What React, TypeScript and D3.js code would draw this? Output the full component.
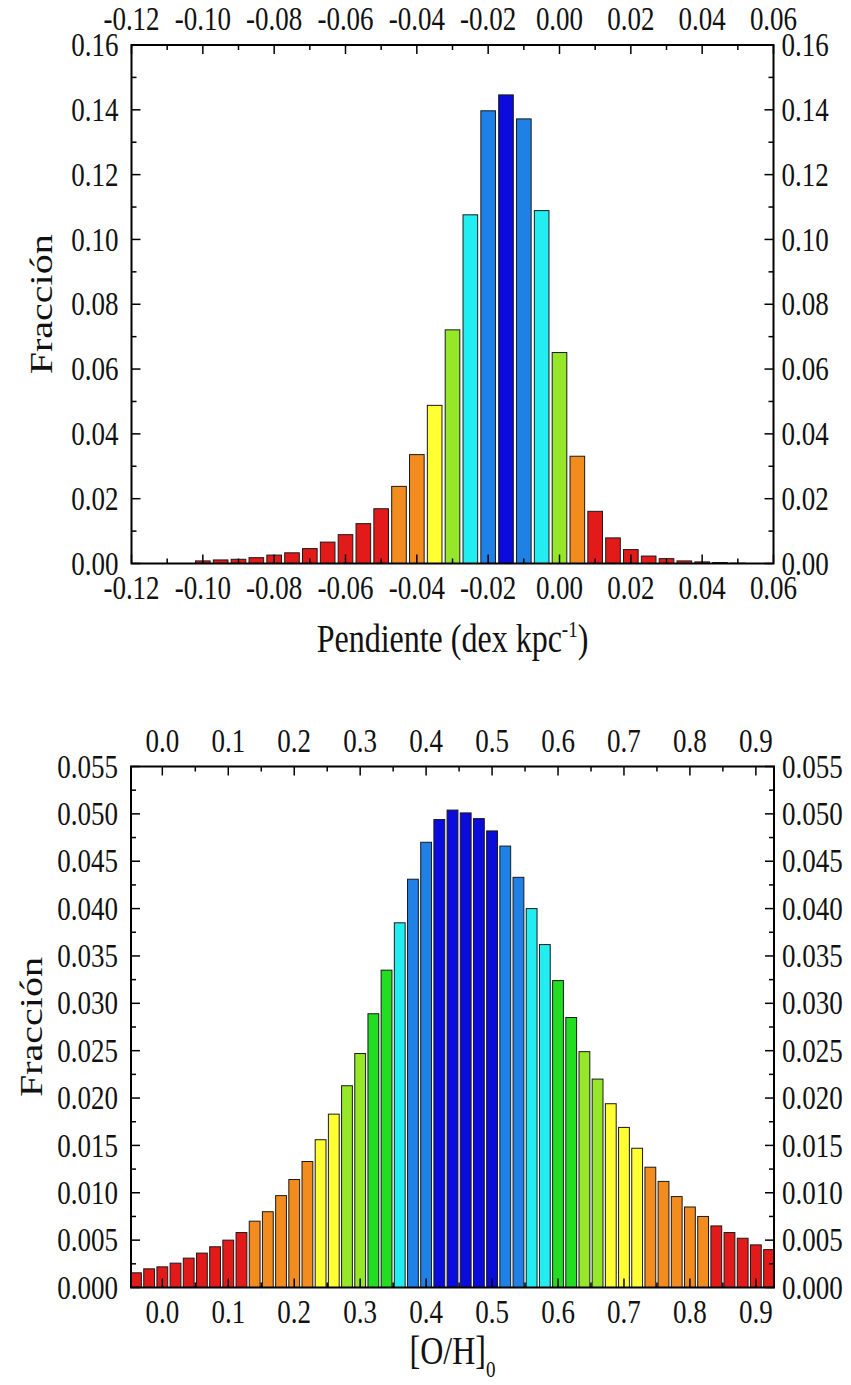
import React from "react";
import * as d3 from "d3";

// ---------- Data: top histogram (slope) ----------
const slopeBins = [
  -0.1, -0.095, -0.09, -0.085, -0.08, -0.075, -0.07, -0.065, -0.06, -0.055,
  -0.05, -0.045, -0.04, -0.035, -0.03, -0.025, -0.02, -0.015, -0.01, -0.005,
  0.0, 0.005, 0.01, 0.015, 0.02, 0.025, 0.03, 0.035, 0.04, 0.045, 0.05,
];
const slopeFrac = [
  0.0008, 0.0011, 0.0013, 0.0018, 0.0026, 0.0033, 0.0046, 0.0066, 0.0089, 0.0123,
  0.0169, 0.0238, 0.0336, 0.0488, 0.0721, 0.1076, 0.1397, 0.1446, 0.1372, 0.1089,
  0.0651, 0.0331, 0.0161, 0.0079, 0.0043, 0.0023, 0.0015, 0.0008, 0.0005, 0.0003, 0.0001,
];
const slopeXTicks = [-0.12, -0.1, -0.08, -0.06, -0.04, -0.02, 0.0, 0.02, 0.04, 0.06];
const slopeYTicks = [0, 0.02, 0.04, 0.06, 0.08, 0.1, 0.12, 0.14, 0.16];

// ---------- Data: bottom histogram ([O/H]0) ----------
const ohBins = [
  -0.04, -0.02, 0.0, 0.02, 0.04, 0.06, 0.08, 0.1, 0.12, 0.14,
  0.16, 0.18, 0.2, 0.22, 0.24, 0.26, 0.28, 0.3, 0.32, 0.34,
  0.36, 0.38, 0.4, 0.42, 0.44, 0.46, 0.48, 0.5, 0.52, 0.54,
  0.56, 0.58, 0.6, 0.62, 0.64, 0.66, 0.68, 0.7, 0.72, 0.74,
  0.76, 0.78, 0.8, 0.82, 0.84, 0.86, 0.88, 0.9, 0.92,
];
const ohFrac = [
  0.00155, 0.00197, 0.00218, 0.00257, 0.0031, 0.00363, 0.0043, 0.005, 0.0058, 0.007,
  0.008, 0.0097, 0.0114, 0.0133, 0.0156, 0.0183, 0.0213, 0.0247, 0.0289, 0.0335,
  0.0385, 0.0431, 0.047, 0.0494, 0.0504, 0.0501, 0.0495, 0.0482, 0.0466, 0.0433,
  0.04, 0.0362, 0.0324, 0.0285, 0.0249, 0.022, 0.0194, 0.0169, 0.0147, 0.0127,
  0.0112, 0.0096, 0.0085, 0.0075, 0.0065, 0.0058, 0.0052, 0.0045, 0.004,
];
const ohXTicks = [0.0, 0.1, 0.2, 0.3, 0.4, 0.5, 0.6, 0.7, 0.8, 0.9];
const ohYTicks = [0, 0.005, 0.01, 0.015, 0.02, 0.025, 0.03, 0.035, 0.04, 0.045, 0.05, 0.055];

const palette = ["#e31a1a", "#f38c1f", "#ffff33", "#96e62a", "#22dd22", "#22eef2", "#1f80e6", "#0b0bdc"];

const FONT = '"Liberation Serif", "DejaVu Serif", serif';
const SY = 1.25; // vertical stretch of the scanned figure's text

type PanelProps = {
  bins: number[];
  values: number[];
  xDomain: [number, number];
  yMax: number;
  binWidth: number;
  xTicks: number[];
  xMinor: number;
  yTicks: number[];
  yMinor: number;
  xFmt: (v: number) => string;
  yFmt: (v: number) => string;
  top: number;
  bottom: number;
  left: number;
  right: number;
  yTitleX: number;
  xTitle: React.ReactNode;
  xTitleY: number;
};

function Label(props: { x: number; y: number; anchor: string; size: number; children: React.ReactNode }) {
  return (
    <text
      transform={`translate(${props.x},${props.y}) scale(1,${SY})`}
      textAnchor={props.anchor as any}
      fill="#111"
      style={{ fontFamily: FONT, fontSize: `${props.size}px` }}
    >
      {props.children}
    </text>
  );
}

function Panel(p: PanelProps) {
  const x = d3.scaleLinear().domain(p.xDomain).range([p.left, p.right]);
  const y = d3.scaleLinear().domain([0, p.yMax]).range([p.bottom, p.top]);
  const color = d3.scaleQuantize<string>().domain([0, p.yMax]).range(palette);
  const bw = p.binWidth * 0.82;
  const minorX = d3.range(
    Math.ceil((p.xDomain[0] - 1e-9) / p.xMinor),
    Math.floor((p.xDomain[1] + 1e-9) / p.xMinor) + 1
  ).map((k) => k * p.xMinor);
  const minorY = d3.range(0, Math.round(p.yMax / p.yMinor) + 1).map((k) => k * p.yMinor);
  const isMajor = (v: number, arr: number[]) => arr.some((t) => Math.abs(t - v) < 1e-9);
  const MAJ = 9;
  const MIN = 5;
  const FS = 27;
  const half = 0.33 * FS * SY; // half cap-height after stretch
  return (
    <g>
      {p.bins.map((b, i) => (
        <rect
          key={i}
          x={x(b - bw / 2)}
          y={y(p.values[i])}
          width={x(b + bw / 2) - x(b - bw / 2)}
          height={y(0) - y(p.values[i])}
          fill={color(p.values[i])}
          stroke="#1a1a1a"
          strokeWidth={1}
        />
      ))}
      {minorX.map((v, i) => {
        const len = isMajor(v, p.xTicks) ? MAJ : MIN;
        return (
          <g key={"xt" + i} stroke="#000" strokeWidth={1.5}>
            <line x1={x(v)} x2={x(v)} y1={p.bottom} y2={p.bottom - len} />
            <line x1={x(v)} x2={x(v)} y1={p.top} y2={p.top + len} />
          </g>
        );
      })}
      {minorY.map((v, i) => {
        const len = isMajor(v, p.yTicks) ? MAJ : MIN;
        return (
          <g key={"yt" + i} stroke="#000" strokeWidth={1.5}>
            <line x1={p.left} x2={p.left + len} y1={y(v)} y2={y(v)} />
            <line x1={p.right} x2={p.right - len} y1={y(v)} y2={y(v)} />
          </g>
        );
      })}
      <rect
        x={p.left}
        y={p.top}
        width={p.right - p.left}
        height={p.bottom - p.top}
        fill="none"
        stroke="#000"
        strokeWidth={2}
      />
      {p.xTicks.map((v, i) => (
        <g key={"xl" + i}>
          <Label x={x(v)} y={p.bottom + 13 + 2 * half} anchor="middle" size={FS}>{p.xFmt(v)}</Label>
          <Label x={x(v)} y={p.top - 15} anchor="middle" size={FS}>{p.xFmt(v)}</Label>
        </g>
      ))}
      {p.yTicks.map((v, i) => (
        <g key={"yl" + i}>
          <Label x={p.left - 13} y={y(v) + half} anchor="end" size={FS}>{p.yFmt(v)}</Label>
          <Label x={p.right + 8} y={y(v) + half} anchor="start" size={FS}>{p.yFmt(v)}</Label>
        </g>
      ))}
      <text
        style={{ fontFamily: FONT, fontSize: "32px" }}
        fill="#111"
        textAnchor="middle"
        transform={`translate(${p.yTitleX},${(p.top + p.bottom) / 2}) rotate(-90) scale(${SY},1)`}
      >
        Fracción
      </text>
      <Label x={(p.left + p.right) / 2} y={p.xTitleY} anchor="middle" size={32}>
        {p.xTitle}
      </Label>
    </g>
  );
}

const hy = (s: string) => s.replace("\u2212", "-");

export default function App() {
  const f2 = (v: number) => hy(d3.format(".2f")(v));
  const f1 = (v: number) => hy(d3.format(".1f")(v));
  const f3 = (v: number) => hy(d3.format(".3f")(v));
  return (
    <svg
      width={851}
      height={1385}
      style={{ position: "absolute", left: 0, top: 0, background: "#fff" }}
    >
      <rect x={0} y={0} width={851} height={1385} fill="#fff" />
      <Panel
        bins={slopeBins}
        values={slopeFrac}
        xDomain={[-0.12, 0.06]}
        yMax={0.16}
        binWidth={0.005}
        xTicks={slopeXTicks}
        xMinor={0.01}
        yTicks={slopeYTicks}
        yMinor={0.01}
        xFmt={f2}
        yFmt={f2}
        top={45}
        bottom={563.5}
        left={131.5}
        right={773.5}
        yTitleX={52}
        xTitle={
          <>
            Pendiente (dex kpc
            <tspan style={{ fontSize: "19px" }} dy={-12}>-1</tspan>
            <tspan dy={12}>)</tspan>
          </>
        }
        xTitleY={652}
      />
      <Panel
        bins={ohBins}
        values={ohFrac}
        xDomain={[-0.0475, 0.9275]}
        yMax={0.055}
        binWidth={0.02}
        xTicks={ohXTicks}
        xMinor={0.05}
        yTicks={ohYTicks}
        yMinor={0.0025}
        xFmt={f1}
        yFmt={f3}
        top={766.5}
        bottom={1287.5}
        left={131}
        right={774}
        yTitleX={42}
        xTitle={
          <>
            [O/H]
            <tspan style={{ fontSize: "19px" }} dy={10}>0</tspan>
          </>
        }
        xTitleY={1364}
      />
    </svg>
  );
}
